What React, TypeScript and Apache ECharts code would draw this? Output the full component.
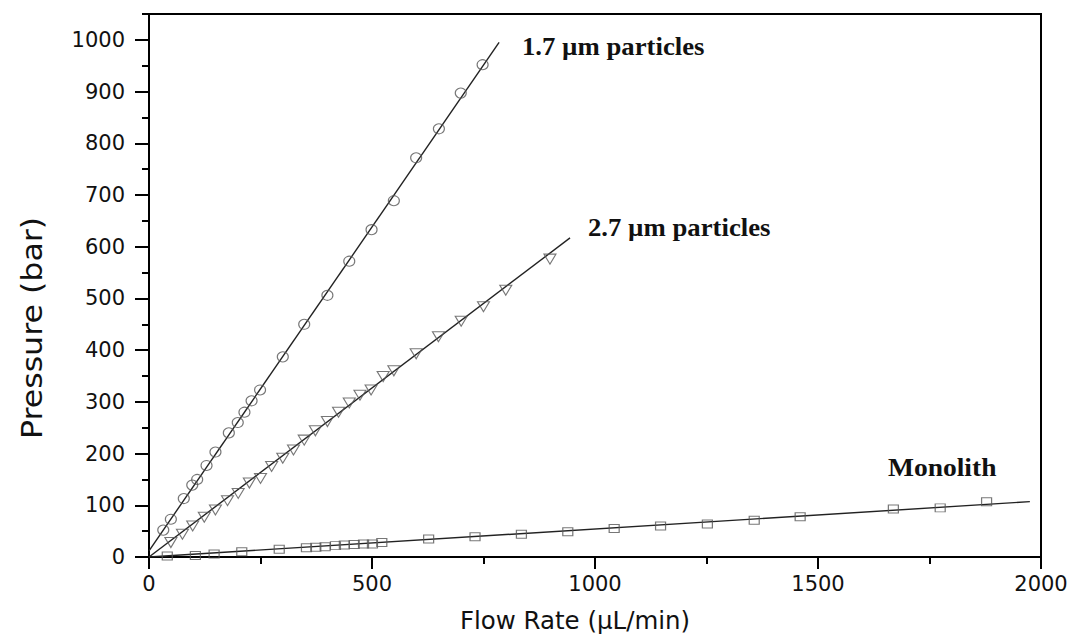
import React, { useEffect, useRef } from "react";
import * as echarts from "echarts";

// 1.7 µm particles (circles)
const circleFlow = [32, 49, 78, 97, 108, 129, 149, 179, 199, 214, 230, 249, 300, 348, 400, 449, 499, 549, 599, 650, 699, 748];
const circlePressure = [52, 73, 113, 139, 150, 177, 203, 240, 260, 280, 302, 323, 387, 450, 506, 572, 633, 689, 772, 828, 897, 952];
const circleFit = [[0, 12], [785, 995]];

// 2.7 µm particles (down triangles)
const triFlow = [49, 75, 98, 124, 149, 176, 200, 225, 250, 275, 300, 324, 348, 373, 400, 425, 449, 473, 498, 525, 549, 599, 649, 700, 750, 800, 899];
const triPressure = [28, 44, 60, 77, 91, 109, 123, 143, 152, 175, 191, 207, 226, 244, 262, 280, 298, 313, 323, 349, 360, 393, 426, 456, 484, 516, 576];
const triFit = [[0, 0], [944, 617]];

// Monolith (squares)
const sqFlow = [41, 104, 146, 208, 292, 353, 374, 395, 418, 438, 460, 481, 501, 522, 627, 731, 835, 939, 1043, 1147, 1252, 1357, 1460, 1669, 1774, 1878];
const sqPressure = [2, 3, 6, 10, 15, 18, 19, 20, 22, 23, 24, 25, 25, 28, 35, 39, 44, 49, 55, 60, 64, 71, 78, 93, 95, 107];
const sqFit = [[0, 0], [1975, 107]];

const yMajorTicks = [0, 100, 200, 300, 400, 500, 600, 700, 800, 900, 1000];

const xTitle = "Flow Rate (µL/min)";
const yTitle = "Pressure (bar)";
const seriesLabels = ["1.7 µm particles", "2.7 µm particles", "Monolith"];

const zip = (xs: number[], ys: number[]) => xs.map((x, i) => [x, ys[i]]);

export default function App() {
  const ref = useRef<HTMLDivElement>(null);
  useEffect(() => {
    if (!ref.current) return;
    const chart = echarts.init(ref.current, null, { renderer: "svg" });
    const markerStyle = { color: "transparent", borderColor: "#555", borderWidth: 1.1 };
    const fitStyle = { color: "#222", width: 1.4 };
    const tickFont = { fontFamily: "DejaVu Sans", fontSize: 21, color: "#111" };
    const annFont = "bold 25px 'Liberation Serif'";
    const plain = (v: number) => String(v);
    chart.setOption({
      animation: false,
      backgroundColor: "#fff",
      grid: {
        left: 149,
        right: 35,
        top: 14,
        bottom: 81,
        show: true,
        borderColor: "#000",
        borderWidth: 2,
        backgroundColor: "transparent",
      },
      xAxis: {
        type: "value",
        min: 0,
        max: 2000,
        interval: 500,
        axisLine: { lineStyle: { color: "#000", width: 2 } },
        axisTick: { length: 12, lineStyle: { color: "#000", width: 2 } },
        minorTick: { show: true, splitNumber: 2, length: 7, lineStyle: { color: "#000", width: 2 } },
        splitLine: { show: false },
        minorSplitLine: { show: false },
        axisLabel: { ...tickFont, margin: 16, formatter: plain },
      },
      yAxis: [
        {
          type: "value",
          min: 0,
          max: 1050,
          interval: 100,
          position: "left",
          axisLine: { show: true, lineStyle: { color: "#000", width: 2 } },
          axisTick: { show: true, length: 14, customValues: yMajorTicks, lineStyle: { color: "#000", width: 2 } },
          splitLine: { show: false },
          axisLabel: { ...tickFont, margin: 24, customValues: yMajorTicks, formatter: plain },
        },
        {
          type: "value",
          min: 0,
          max: 1050,
          interval: 50,
          position: "left",
          offset: 0,
          axisLine: { show: false },
          axisTick: { show: true, length: 7, lineStyle: { color: "#000", width: 2 } },
          axisLabel: { show: false },
          splitLine: { show: false },
        },
      ],
      series: [
        { type: "line", data: circleFit, showSymbol: false, symbol: "none", lineStyle: fitStyle, z: 2 },
        { type: "line", data: triFit, showSymbol: false, symbol: "none", lineStyle: fitStyle, z: 2 },
        { type: "line", data: sqFit, showSymbol: false, symbol: "none", lineStyle: fitStyle, z: 2 },
        { type: "scatter", data: zip(circleFlow, circlePressure), symbol: "circle", symbolSize: [11, 10], itemStyle: markerStyle, z: 3 },
        { type: "scatter", data: zip(triFlow, triPressure), symbol: "triangle", symbolRotate: 180, symbolSize: [12, 10], itemStyle: markerStyle, z: 3 },
        { type: "scatter", data: zip(sqFlow, sqPressure), symbol: "rect", symbolSize: [10, 8], itemStyle: markerStyle, z: 3 },
      ],
      graphic: [
        { type: "text", left: 522, top: 34, scaleX: 1.07, style: { text: seriesLabels[0], font: annFont, fill: "#111" } },
        { type: "text", left: 588, top: 215, scaleX: 1.07, style: { text: seriesLabels[1], font: annFont, fill: "#111" } },
        { type: "text", left: 888, top: 455, scaleX: 1.1, style: { text: seriesLabels[2], font: annFont, fill: "#111" } },
        {
          type: "text",
          x: 575,
          y: 621,
          scaleX: 1.02,
          style: { text: xTitle, fontFamily: "DejaVu Sans", fontSize: 24, fill: "#111", align: "center", verticalAlign: "middle" },
        },
        {
          type: "text",
          x: 32,
          y: 328,
          rotation: Math.PI / 2,
          scaleX: 1.13,
          style: { text: yTitle, fontFamily: "DejaVu Sans", fontSize: 28, fill: "#111", align: "center", verticalAlign: "middle" },
        },
      ],
    });
    return () => chart.dispose();
  }, []);
  return <div ref={ref} style={{ position: "fixed", left: 0, top: 0, width: 1076, height: 638 }} />;
}
